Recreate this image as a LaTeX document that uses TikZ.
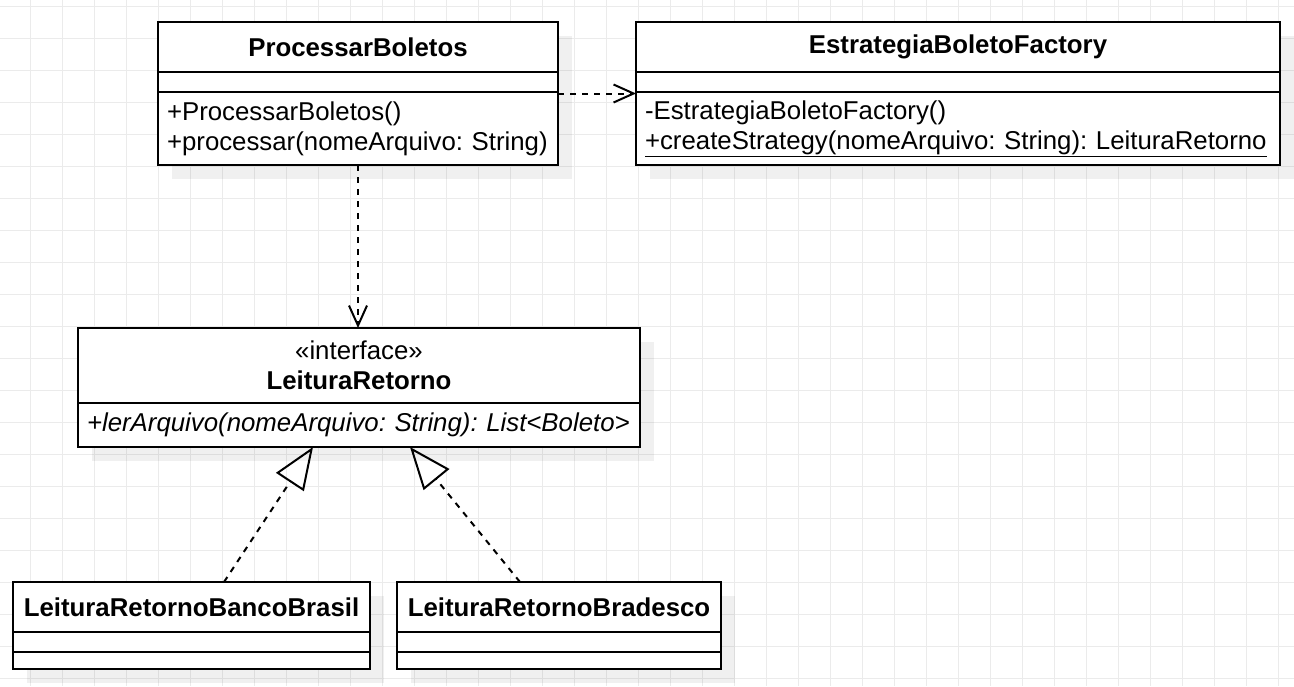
\documentclass[tikz,border=0pt]{standalone}
\usepackage{fontspec}
\setmainfont{Liberation Sans}
\usepackage{xcolor}
\definecolor{uml-black}{HTML}{000000}
\definecolor{uml-white}{HTML}{FFFFFF}
\definecolor{uml-grid}{HTML}{EBEBEB}
\usetikzlibrary{positioning, fit, shadows, arrows.meta}
\newcommand{\umlfont}{\fontsize{25.8}{30}\selectfont\frenchspacing}
\tikzset{
    compart/.style={draw=uml-black, fill=uml-white, line width=2pt, outer sep=0pt, inner sep=0pt, font=\umlfont,
        drop shadow={shadow xshift=14pt, shadow yshift=-14pt, fill=black, opacity=0.06}},
    classhead/.style={compart, align=center, font=\umlfont\bfseries},
    classbody/.style={compart, align=left, inner xsep=9pt},
    classbox/.style={inner sep=0pt, outer sep=0pt},
    gridline/.style={draw=uml-grid, line width=1pt},
    dep/.style={draw=uml-black, line width=2pt, dash pattern=on 6pt off 6pt, -{Straight Barb[length=20pt, width=18pt]}},
    realize/.style={draw=uml-black, line width=2pt, dash pattern=on 6pt off 6pt, -{Triangle[open, length=42pt, width=33pt]}},
}

\begin{document}
\begin{tikzpicture}[x=1pt, y=-1pt]

    \useasboundingbox (0, 0) rectangle (1294, 686);
    \fill[uml-white] (0, 0) rectangle (1294, 686);

    % Grid
    \foreach \gx in {0,...,39} \draw[gridline] ({30.7+32*\gx}, 0) -- ({30.7+32*\gx}, 686);
    \foreach \gy in {0,...,21} \draw[gridline] (0, {6+32*\gy}) -- (1294, {6+32*\gy});

    % ProcessarBoletos
    \node[classhead, minimum width=400pt, minimum height=50pt, anchor=north west] (procHead) at (158, 22) {ProcessarBoletos};
    \node[compart, minimum width=400pt, minimum height=20pt, below=0pt of procHead] (procAttr) {};
    \node[classbody, text width=382pt, minimum height=73pt, below=0pt of procAttr] (procOps) {+ProcessarBoletos()\\+processar(nomeArquivo: String)};
    \node[classbox, fit=(procHead)(procOps)] (proc) {};

    % EstrategiaBoletoFactory
    \node[classhead, minimum width=644pt, minimum height=50pt, anchor=north west] (factHead) at (636, 22) {EstrategiaBoletoFactory};
    \node[compart, minimum width=644pt, minimum height=20pt, below=0pt of factHead] (factAttr) {};
    \node[classbody, text width=626pt, minimum height=73pt, below=0pt of factAttr] (factOps) {-EstrategiaBoletoFactory()\\\underline{+createStrategy(nomeArquivo: String): LeituraRetorno}};
    \node[classbox, fit=(factHead)(factOps)] (fact) {};

    % LeituraRetorno
    \node[compart, align=center, minimum width=562pt, minimum height=75pt, anchor=north west] (lrHead) at (78, 328) {«interface»\\\textbf{LeituraRetorno}};
    \node[classbody, text width=544pt, minimum height=44pt, below=0pt of lrHead] (lrOps) {\itshape +lerArquivo(nomeArquivo: String): List<Boleto>};
    \node[classbox, fit=(lrHead)(lrOps)] (lr) {};

    % LeituraRetornoBancoBrasil
    \node[classhead, minimum width=357pt, minimum height=50pt, anchor=north west] (bbHead) at (13, 582) {LeituraRetornoBancoBrasil};
    \node[compart, minimum width=357pt, minimum height=20pt, below=0pt of bbHead] (bbAttr) {};
    \node[compart, minimum width=357pt, minimum height=17pt, below=0pt of bbAttr] (bbOps) {};

    % LeituraRetornoBradesco
    \node[classhead, minimum width=324pt, minimum height=50pt, anchor=north west] (bradHead) at (397, 582) {LeituraRetornoBradesco};
    \node[compart, minimum width=324pt, minimum height=20pt, below=0pt of bradHead] (bradAttr) {};
    \node[compart, minimum width=324pt, minimum height=17pt, below=0pt of bradAttr] (bradOps) {};

    % Dependencies
    \draw[dep] (proc.east) -- (fact.west);
    \draw[dep] (proc.south) -- (proc.south |- lr.north);

    % Realizations
    \coordinate (bbTop) at ([xshift=32.5pt]bbHead.north);
    \coordinate (bradTop) at ([xshift=-39pt]bradHead.north);
    \coordinate (lrLeft) at ([xshift=-46pt]lr.south);
    \coordinate (lrRight) at ([xshift=51pt]lr.south);
    \draw[realize] (bbTop) -- (lrLeft);
    \draw[realize] (bradTop) -- (lrRight);

\end{tikzpicture}
\end{document}
